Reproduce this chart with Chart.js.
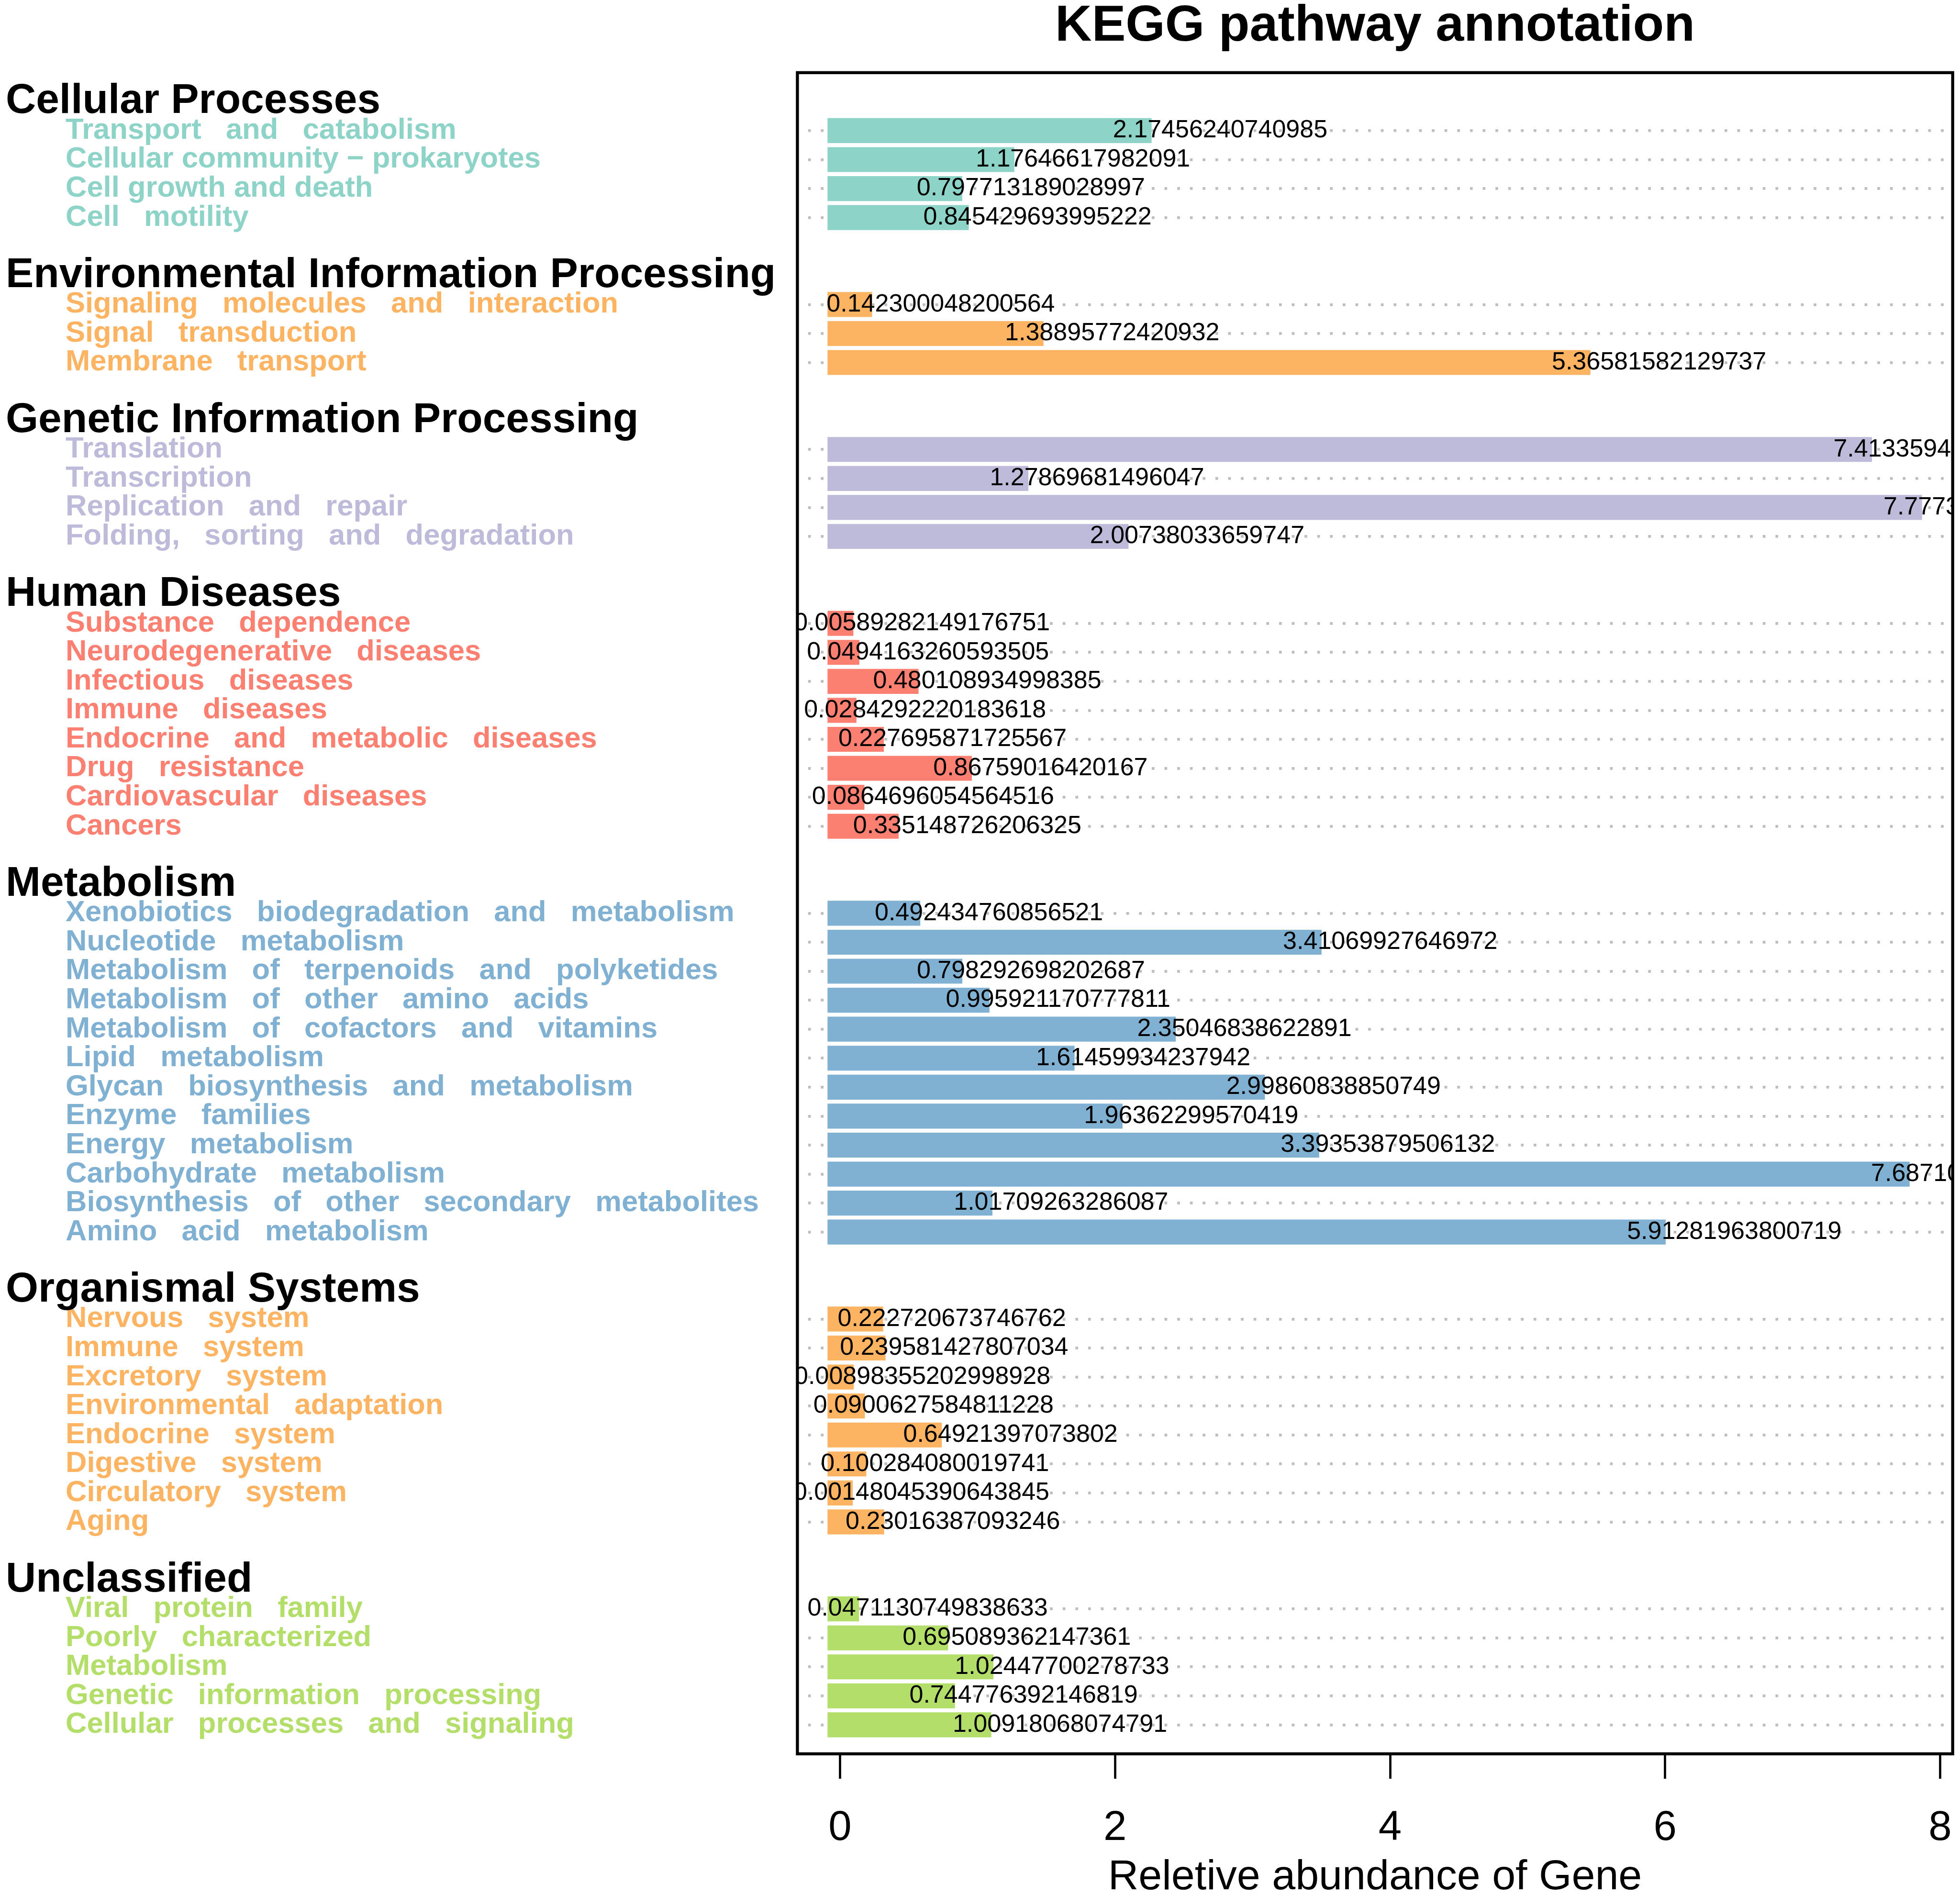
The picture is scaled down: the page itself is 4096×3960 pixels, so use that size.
<!DOCTYPE html>
<html>
<head>
    <meta charset="utf-8">
    <script src="https://cdn.jsdelivr.net/npm/chart.js@4.4.1/dist/chart.umd.min.js"></script>
    <title>KEGG pathway annotation</title>
    <style>
        html, body { margin: 0; padding: 0; background: #fff; }
        #wrap { width: 4096px; height: 3960px; }
    </style>
</head>
<body>
<div id="wrap">
    <canvas id="myChart"></canvas>
</div>

<script>
    // KEGG level 1 groups and their colours
    const groupNames = ['Cellular Processes', 'Environmental Information Processing', 'Genetic Information Processing',
        'Human Diseases', 'Metabolism', 'Organismal Systems', 'Unclassified'];
    const groupColors = ['#8DD3C7', '#FDB462', '#BEBADA', '#FB8072', '#80B1D3', '#FDB462', '#B3DE69'];

    // level 2 pathways, one pair of arrays per group
    const cellularLabels = ['Transport   and   catabolism', 'Cellular community \u2212 prokaryotes', 'Cell growth and death', 'Cell   motility'];
    const cellularValues = [2.17456240740985, 1.17646617982091, 0.797713189028997, 0.845429693995222];

    const environmentalLabels = ['Signaling   molecules   and   interaction', 'Signal   transduction', 'Membrane   transport'];
    const environmentalValues = [0.142300048200564, 1.38895772420932, 5.36581582129737];

    const geneticLabels = ['Translation', 'Transcription', 'Replication   and   repair', 'Folding,   sorting   and   degradation'];
    const geneticValues = [7.41335942592593, 1.27869681496047, 7.77731481481482, 2.00738033659747];

    const humanLabels = ['Substance   dependence', 'Neurodegenerative   diseases', 'Infectious   diseases', 'Immune   diseases',
        'Endocrine   and   metabolic   diseases', 'Drug   resistance', 'Cardiovascular   diseases', 'Cancers'];
    const humanValues = [0.00589282149176751, 0.0494163260593505, 0.480108934998385, 0.0284292220183618,
        0.227695871725567, 0.86759016420167, 0.0864696054564516, 0.335148726206325];

    const metabolismLabels = ['Xenobiotics   biodegradation   and   metabolism', 'Nucleotide   metabolism',
        'Metabolism   of   terpenoids   and   polyketides', 'Metabolism   of   other   amino   acids',
        'Metabolism   of   cofactors   and   vitamins', 'Lipid   metabolism', 'Glycan   biosynthesis   and   metabolism',
        'Enzyme   families', 'Energy   metabolism', 'Carbohydrate   metabolism',
        'Biosynthesis   of   other   secondary   metabolites', 'Amino   acid   metabolism'];
    const metabolismValues = [0.492434760856521, 3.41069927646972, 0.798292698202687, 0.995921170777811,
        2.35046838622891, 1.61459934237942, 2.99860838850749, 1.96362299570419,
        3.39353879506132, 7.68710648148148, 1.01709263286087, 5.91281963800719];

    const organismalLabels = ['Nervous   system', 'Immune   system', 'Excretory   system', 'Environmental   adaptation',
        'Endocrine   system', 'Digestive   system', 'Circulatory   system', 'Aging'];
    const organismalValues = [0.222720673746762, 0.239581427807034, 0.00898355202998928, 0.0900627584811228,
        0.64921397073802, 0.100284080019741, 0.00148045390643845, 0.23016387093246];

    const unclassifiedLabels = ['Viral   protein   family', 'Poorly   characterized', 'Metabolism',
        'Genetic   information   processing', 'Cellular   processes   and   signaling'];
    const unclassifiedValues = [0.0471130749838633, 0.695089362147361, 1.02447700278733, 0.744776392146819, 1.00918068074791];

    const xTicks = [0, 2, 4, 6, 8];

    // -------------------------------------------------------------
    const FONT = 'Liberation Sans';
    const BAR_PAD = 0.091;      // bars have square ends sticking out on both sides
    const LABEL_SHIFT = 0.59;   // value text is centred a bit right of the bar end
    const INDENT = 125;         // items are indented under their group header

    const groupLabels = [cellularLabels, environmentalLabels, geneticLabels, humanLabels, metabolismLabels, organismalLabels, unclassifiedLabels];
    const groupValues = [cellularValues, environmentalValues, geneticValues, humanValues, metabolismValues, organismalValues, unclassifiedValues];

    // one row per slot: blank, header, items..., blank, header, ...
    const headerRows = [''];
    const itemRows = [''];
    const rowColors = [null];
    const rowValues = [null];
    groupNames.forEach(function(name, g) {
        headerRows.push(name); itemRows.push(''); rowColors.push(null); rowValues.push(null);
        groupLabels[g].forEach(function(lab, i) {
            headerRows.push(''); itemRows.push(lab); rowColors.push(groupColors[g]); rowValues.push(groupValues[g][i]);
        });
        headerRows.push(''); itemRows.push(''); rowColors.push(null); rowValues.push(null);
    });

    const isItem = function(i) { return rowValues[i] !== null && rowValues[i] !== undefined; };

    // text of each bar, clipped by the box
    const barLabels = {
        id: 'barLabels',
        afterDatasetsDraw(chart) {
            const ctx = chart.ctx, area = chart.chartArea, x = chart.scales.x, y = chart.scales.y;
            ctx.save();
            ctx.beginPath();
            ctx.rect(area.left, area.top, area.right - area.left, area.bottom - area.top);
            ctx.clip();
            ctx.font = '52px "' + FONT + '"';
            ctx.fillStyle = '#000';
            ctx.textAlign = 'center';
            ctx.textBaseline = 'middle';
            rowValues.forEach(function(v, i) {
                if (!isItem(i)) return;
                ctx.fillText(String(v), x.getPixelForValue(v + LABEL_SHIFT), y.getPixelForValue(i));
            });
            ctx.restore();
        }
    };

    // box around the plot
    const frame = {
        id: 'frame',
        afterDraw(chart) {
            const ctx = chart.ctx, a = chart.chartArea;
            ctx.save();
            ctx.strokeStyle = '#000';
            ctx.lineWidth = 6.3;
            ctx.strokeRect(a.left, a.top, a.right - a.left, a.bottom - a.top);
            ctx.restore();
        }
    };

    Chart.defaults.font.family = FONT;
    Chart.defaults.color = '#000';

    const data = {
        labels: itemRows,
        datasets: [{
            data: rowValues.map(function(v) { return v === null ? null : [-BAR_PAD, v + BAR_PAD]; }),
            backgroundColor: rowColors.map(function(c) { return c || 'rgba(0,0,0,0)'; }),
            borderWidth: 0,
            barPercentage: 0.861,
            categoryPercentage: 1,
            xAxisID: 'x',
            yAxisID: 'y'
        }]
    };

    const config = {
        type: 'bar',
        data: data,
        options: {
            indexAxis: 'y',
            responsive: true,
            maintainAspectRatio: false,
            animation: false,
            layout: { padding: { left: 12, right: 15.3, top: 0, bottom: 0 } },
            plugins: {
                legend: { display: false },
                tooltip: { enabled: false },
                title: {
                    display: true,
                    text: 'KEGG pathway annotation',
                    fullSize: false,
                    color: '#000',
                    font: { size: 106, weight: 'bold', lineHeight: 1 },
                    padding: { top: 3, bottom: 42.8 }
                }
            },
            scales: {
                x: {
                    type: 'linear',
                    position: 'bottom',
                    min: -0.31,
                    max: 8.091,
                    afterBuildTicks: function(s) { s.ticks = xTicks.map(function(v) { return { value: v }; }); },
                    afterFit: function(s) { s.height = 295; s.paddingLeft = 0; s.paddingRight = 0; },
                    grid: { drawOnChartArea: false, drawTicks: true, tickLength: 52, tickWidth: 4.7, tickColor: '#000' },
                    border: { display: false },
                    ticks: { color: '#000', padding: 61, maxRotation: 0, font: { size: 87, lineHeight: 1 } },
                    title: {
                        display: true,
                        text: 'Reletive abundance of Gene',
                        color: '#000',
                        font: { size: 88, lineHeight: 1 },
                        padding: { top: 0, bottom: -8 }
                    }
                },
                y: {
                    type: 'category',
                    position: 'left',
                    labels: itemRows,
                    offset: false,
                    weight: 0,
                    afterFit: function(s) { s.width = 1666.4 - 12 - INDENT; s.paddingTop = 0; s.paddingBottom = 0; },
                    grid: {
                        offset: false,
                        drawTicks: false,
                        color: function(c) { return isItem(c.index) ? '#BEBEBE' : 'rgba(0,0,0,0)'; },
                        lineWidth: function(c) { return isItem(c.index) ? 5.7 : 0; }
                    },
                    border: { display: false, dash: [5.7, 20.9], dashOffset: 3.85 },
                    ticks: {
                        autoSkip: false,
                        crossAlign: 'far',
                        padding: 0,
                        font: { size: 61.5, weight: 'bold' },
                        color: function(c) { return rowColors[c.index] || 'rgba(0,0,0,0)'; }
                    }
                },
                // group headers: mirrored labels so they are not clipped to the narrow axis box
                yh: {
                    type: 'category',
                    position: 'left',
                    labels: headerRows,
                    offset: false,
                    weight: 1,
                    afterFit: function(s) { s.width = INDENT; s.paddingTop = 0; s.paddingBottom = 0; },
                    grid: { display: false, drawTicks: false },
                    border: { display: false },
                    ticks: {
                        autoSkip: false,
                        mirror: true,
                        crossAlign: 'near',
                        padding: -INDENT,
                        color: '#000',
                        font: { size: 87.5, weight: 'bold' }
                    }
                }
            }
        },
        plugins: [barLabels, frame]
    };

    var myChart = new Chart(
        document.getElementById('myChart'),
        config
    );
</script>
</body>
</html>
